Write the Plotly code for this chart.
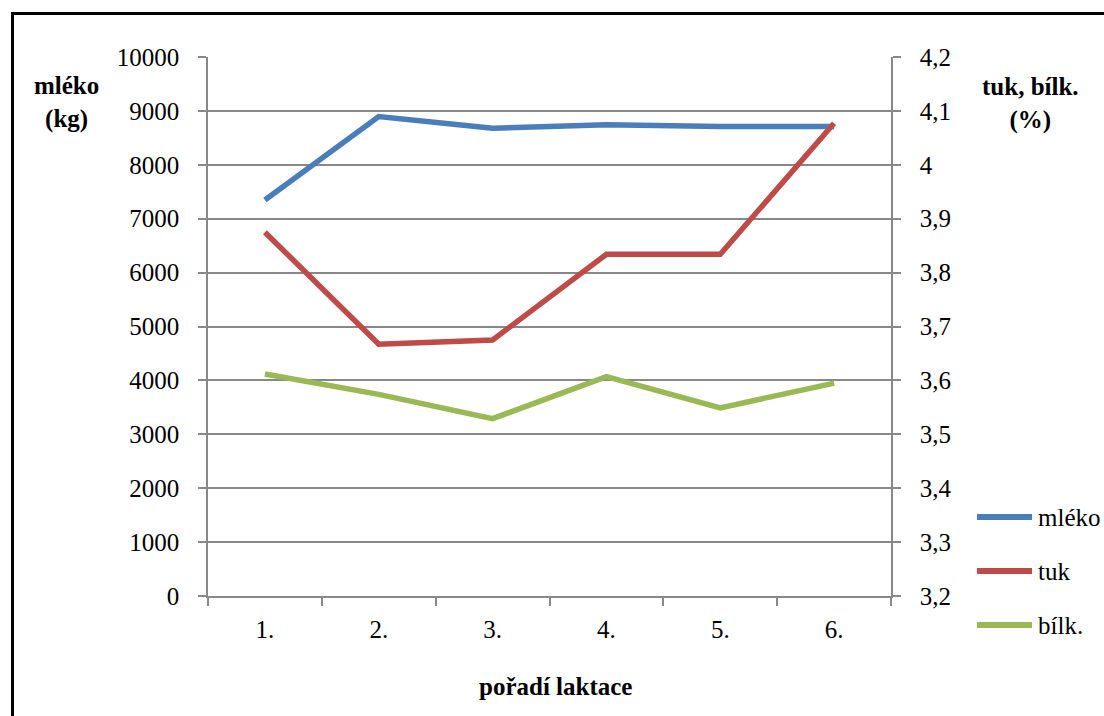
import plotly.graph_objects as go

# Lactation order categories
laktace = ["1.", "2.", "3.", "4.", "5.", "6."]

# Milk yield (kg), left axis
mleko = [7346, 8895, 8680, 8741, 8710, 8710]
# Fat and protein content (%), right axis
tuk = [3.875, 3.667, 3.675, 3.834, 3.834, 4.077]
bilk = [3.612, 3.574, 3.529, 3.607, 3.549, 3.595]

# Axis ticks
left_ticks = [0, 1000, 2000, 3000, 4000, 5000, 6000, 7000, 8000, 9000, 10000]
left_labels = [str(v) for v in left_ticks]
right_ticks = [3.2, 3.3, 3.4, 3.5, 3.6, 3.7, 3.8, 3.9, 4.0, 4.1, 4.2]
right_labels = ["3,2", "3,3", "3,4", "3,5", "3,6", "3,7", "3,8", "3,9", "4", "4,1", "4,2"]

series_names = ["mléko", "tuk", "bílk."]
colors = ["#4A7EBB", "#BE4B48", "#98B954"]

W, H = 1104, 716
L, R, T, B = 208, 891, 57, 596
FONT = "serif"
FS = 25
GRID = "#888888"


def px_x(x):
    return (x - L) / (R - L)


def px_y(y):
    return (B - y) / (B - T)


fig = go.Figure()
fig.add_trace(go.Scatter(x=laktace, y=mleko, name=series_names[0], mode="lines",
                         line=dict(color=colors[0], width=5.5), yaxis="y"))
fig.add_trace(go.Scatter(x=laktace, y=tuk, name=series_names[1], mode="lines",
                         line=dict(color=colors[1], width=5.5), yaxis="y2"))
fig.add_trace(go.Scatter(x=laktace, y=bilk, name=series_names[2], mode="lines",
                         line=dict(color=colors[2], width=5.5), yaxis="y2"))

axis_common = dict(
    showline=True, linecolor=GRID, linewidth=1.6,
    ticks="outside", ticklen=8, tickcolor=GRID, tickwidth=1.6,
    zeroline=False,
    tickfont=dict(family=FONT, size=FS, color="black"),
)

fig.update_layout(
    width=W, height=H,
    margin=dict(l=L, r=W - R, t=T, b=H - B),
    paper_bgcolor="white", plot_bgcolor="white",
    showlegend=False,
    font=dict(family=FONT, size=FS, color="black"),
    xaxis=dict(
        type="category", categoryorder="array", categoryarray=laktace,
        range=[-0.5, len(laktace) - 0.5],
        tickson="boundaries", showgrid=False, ticklabelstandoff=10,
        **axis_common,
    ),
    yaxis=dict(
        range=[0, 10000], tickvals=left_ticks, ticktext=left_labels,
        showgrid=True, gridcolor=GRID, gridwidth=1.6, ticklabelstandoff=14,
        **axis_common,
    ),
    yaxis2=dict(
        range=[3.2, 4.2], tickvals=right_ticks, ticktext=right_labels,
        overlaying="y", side="right", showgrid=False, ticklabelstandoff=14,
        **axis_common,
    ),
)

# Outer chart frame (an empty bordered box)
fig.add_annotation(text="", xref="paper", yref="paper",
                   x=px_x(11), y=px_y(12), xanchor="left", yanchor="top",
                   width=1110, height=720, borderwidth=3, bordercolor="black",
                   borderpad=0, showarrow=False)

# Axis titles
fig.add_annotation(text="<b>mléko<br>(kg)</b>", xref="paper", yref="paper",
                   x=px_x(66), y=px_y(102), xanchor="center", yanchor="middle",
                   showarrow=False, font=dict(size=FS, family=FONT, color="black"))
fig.add_annotation(text="<b>tuk, bílk.<br>(%)</b>", xref="paper", yref="paper",
                   x=px_x(1030), y=px_y(103), xanchor="center", yanchor="middle",
                   showarrow=False, font=dict(size=FS, family=FONT, color="black"))
fig.add_annotation(text="<b>pořadí laktace</b>", xref="paper", yref="paper",
                   x=px_x(555), y=px_y(686), xanchor="center", yanchor="middle",
                   showarrow=False, font=dict(size=FS, family=FONT, color="black"))

# Legend: colour swatch boxes and series names
for i, (name, col) in enumerate(zip(series_names, colors)):
    ly = 517 + i * 54
    fig.add_annotation(text="", xref="paper", yref="paper",
                       x=px_x(977), y=px_y(ly), xanchor="left", yanchor="middle",
                       width=55, height=6, bgcolor=col, borderpad=0, borderwidth=0,
                       showarrow=False)
    fig.add_annotation(text=name, xref="paper", yref="paper",
                       x=px_x(1036), y=px_y(ly), xanchor="left", yanchor="middle",
                       showarrow=False, font=dict(size=FS, family=FONT, color="black"))

fig.write_html("out.html")
